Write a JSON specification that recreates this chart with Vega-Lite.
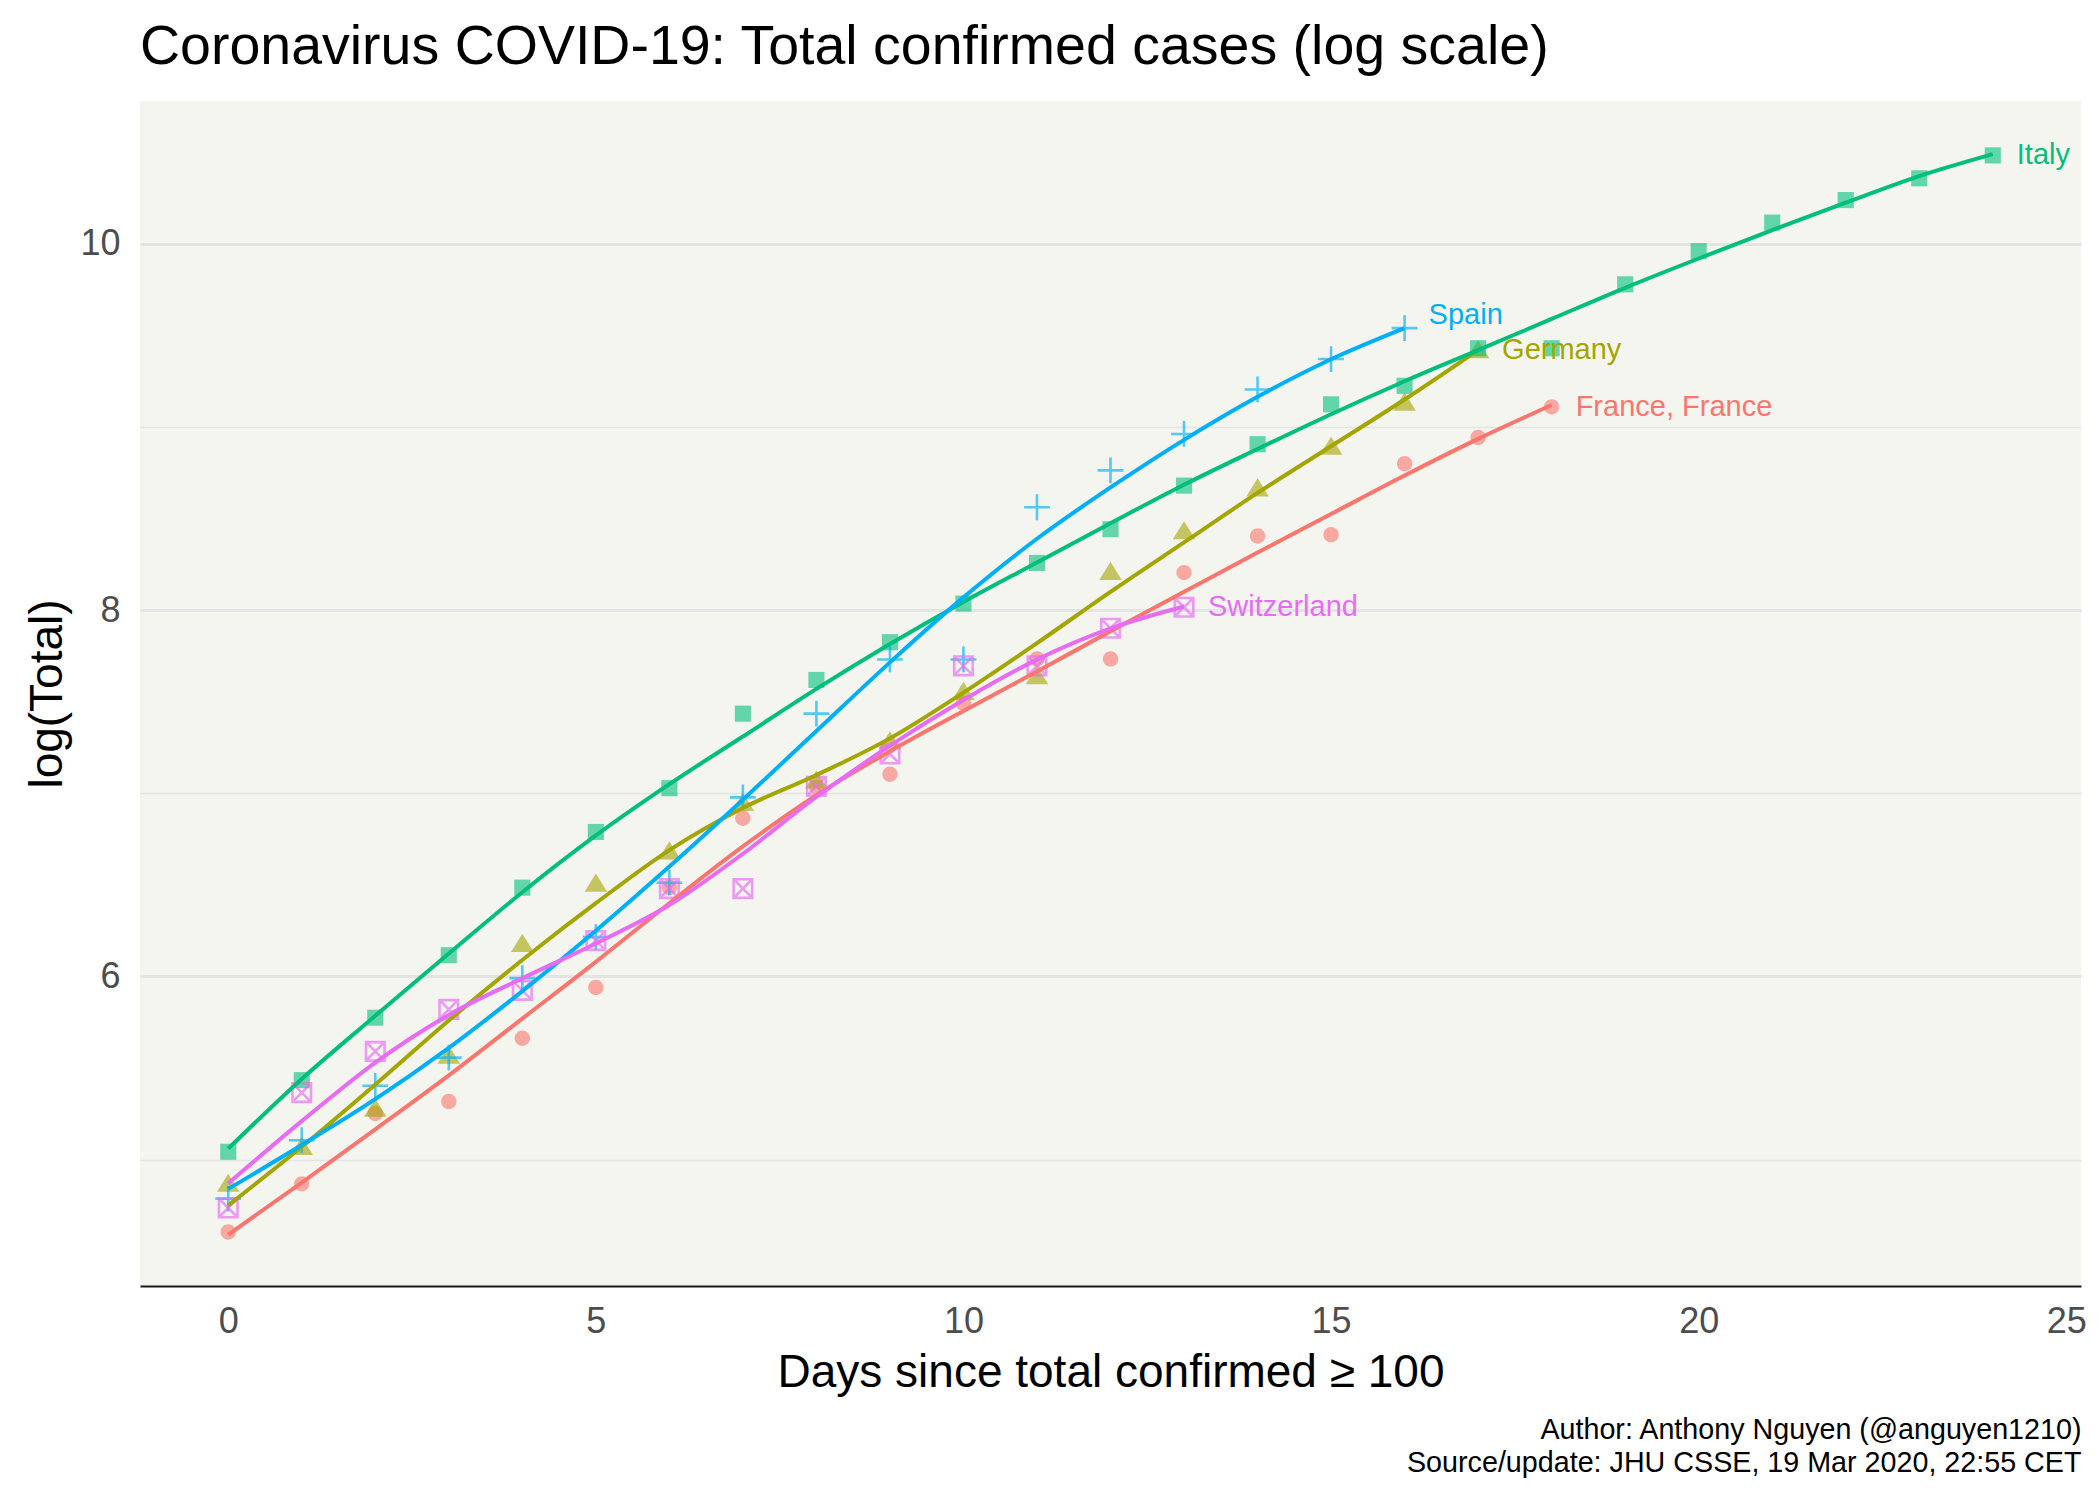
{
  "$schema": "https://vega.github.io/schema/vega-lite/v6.json",
  "width": 1941,
  "height": 1185,
  "autosize": {"type": "none"},
  "padding": {"left": 140, "top": 101, "right": 19, "bottom": 214},
  "background": "white",
  "title": {
    "text": "Coronavirus COVID-19: Total confirmed cases (log scale)",
    "anchor": "start",
    "frame": "group",
    "fontSize": 55.5,
    "fontWeight": "normal",
    "color": "#000000",
    "offset": 26
  },
  "data": {
    "values": [
      {"country": "France, France", "day": 0, "log_total": 4.605, "fit": 4.59},
      {"country": "France, France", "day": 1, "log_total": 4.868, "fit": 4.875},
      {"country": "France, France", "day": 2, "log_total": 5.252, "fit": 5.165},
      {"country": "France, France", "day": 3, "log_total": 5.318, "fit": 5.46},
      {"country": "France, France", "day": 4, "log_total": 5.663, "fit": 5.77},
      {"country": "France, France", "day": 5, "log_total": 5.94, "fit": 6.08},
      {"country": "France, France", "day": 6, "log_total": 6.486, "fit": 6.4},
      {"country": "France, France", "day": 7, "log_total": 6.864, "fit": 6.71},
      {"country": "France, France", "day": 8, "log_total": 7.034, "fit": 6.99},
      {"country": "France, France", "day": 9, "log_total": 7.104, "fit": 7.23},
      {"country": "France, France", "day": 10, "log_total": 7.492, "fit": 7.45},
      {"country": "France, France", "day": 11, "log_total": 7.734, "fit": 7.665},
      {"country": "France, France", "day": 12, "log_total": 7.734, "fit": 7.885},
      {"country": "France, France", "day": 13, "log_total": 8.205, "fit": 8.1},
      {"country": "France, France", "day": 14, "log_total": 8.405, "fit": 8.315},
      {"country": "France, France", "day": 15, "log_total": 8.412, "fit": 8.525},
      {"country": "France, France", "day": 16, "log_total": 8.8, "fit": 8.735},
      {"country": "France, France", "day": 17, "log_total": 8.943, "fit": 8.935},
      {"country": "France, France", "day": 18, "log_total": 9.11, "fit": 9.12},
      {"country": "Germany", "day": 0, "log_total": 4.868, "fit": 4.75},
      {"country": "Germany", "day": 1, "log_total": 5.069, "fit": 5.07},
      {"country": "Germany", "day": 2, "log_total": 5.278, "fit": 5.41},
      {"country": "Germany", "day": 3, "log_total": 5.568, "fit": 5.76},
      {"country": "Germany", "day": 4, "log_total": 6.178, "fit": 6.09},
      {"country": "Germany", "day": 5, "log_total": 6.507, "fit": 6.4},
      {"country": "Germany", "day": 6, "log_total": 6.683, "fit": 6.69},
      {"country": "Germany", "day": 7, "log_total": 6.947, "fit": 6.92},
      {"country": "Germany", "day": 8, "log_total": 7.07, "fit": 7.1},
      {"country": "Germany", "day": 9, "log_total": 7.284, "fit": 7.3},
      {"country": "Germany", "day": 10, "log_total": 7.554, "fit": 7.55},
      {"country": "Germany", "day": 11, "log_total": 7.639, "fit": 7.82},
      {"country": "Germany", "day": 12, "log_total": 8.209, "fit": 8.1},
      {"country": "Germany", "day": 13, "log_total": 8.431, "fit": 8.37},
      {"country": "Germany", "day": 14, "log_total": 8.665, "fit": 8.64},
      {"country": "Germany", "day": 15, "log_total": 8.892, "fit": 8.895},
      {"country": "Germany", "day": 16, "log_total": 9.133, "fit": 9.15},
      {"country": "Germany", "day": 17, "log_total": 9.419, "fit": 9.42},
      {"country": "Italy", "day": 0, "log_total": 5.043, "fit": 5.06},
      {"country": "Italy", "day": 1, "log_total": 5.434, "fit": 5.44},
      {"country": "Italy", "day": 2, "log_total": 5.775, "fit": 5.785},
      {"country": "Italy", "day": 3, "log_total": 6.116, "fit": 6.125},
      {"country": "Italy", "day": 4, "log_total": 6.485, "fit": 6.46},
      {"country": "Italy", "day": 5, "log_total": 6.789, "fit": 6.77},
      {"country": "Italy", "day": 6, "log_total": 7.028, "fit": 7.05},
      {"country": "Italy", "day": 7, "log_total": 7.435, "fit": 7.31},
      {"country": "Italy", "day": 8, "log_total": 7.619, "fit": 7.57},
      {"country": "Italy", "day": 9, "log_total": 7.825, "fit": 7.815},
      {"country": "Italy", "day": 10, "log_total": 8.036, "fit": 8.045},
      {"country": "Italy", "day": 11, "log_total": 8.258, "fit": 8.26},
      {"country": "Italy", "day": 12, "log_total": 8.442, "fit": 8.475},
      {"country": "Italy", "day": 13, "log_total": 8.68, "fit": 8.685},
      {"country": "Italy", "day": 14, "log_total": 8.906, "fit": 8.88},
      {"country": "Italy", "day": 15, "log_total": 9.124, "fit": 9.07},
      {"country": "Italy", "day": 16, "log_total": 9.225, "fit": 9.25},
      {"country": "Italy", "day": 17, "log_total": 9.43, "fit": 9.42},
      {"country": "Italy", "day": 18, "log_total": 9.43, "fit": 9.59},
      {"country": "Italy", "day": 19, "log_total": 9.779, "fit": 9.76},
      {"country": "Italy", "day": 20, "log_total": 9.96, "fit": 9.92},
      {"country": "Italy", "day": 21, "log_total": 10.116, "fit": 10.075},
      {"country": "Italy", "day": 22, "log_total": 10.239, "fit": 10.225},
      {"country": "Italy", "day": 23, "log_total": 10.358, "fit": 10.37},
      {"country": "Italy", "day": 24, "log_total": 10.483, "fit": 10.49},
      {"country": "Spain", "day": 0, "log_total": 4.787, "fit": 4.84},
      {"country": "Spain", "day": 1, "log_total": 5.106, "fit": 5.08},
      {"country": "Spain", "day": 2, "log_total": 5.403, "fit": 5.33},
      {"country": "Spain", "day": 3, "log_total": 5.557, "fit": 5.61},
      {"country": "Spain", "day": 4, "log_total": 5.991, "fit": 5.92},
      {"country": "Spain", "day": 5, "log_total": 6.215, "fit": 6.25},
      {"country": "Spain", "day": 6, "log_total": 6.512, "fit": 6.6},
      {"country": "Spain", "day": 7, "log_total": 6.978, "fit": 6.965},
      {"country": "Spain", "day": 8, "log_total": 7.435, "fit": 7.34},
      {"country": "Spain", "day": 9, "log_total": 7.731, "fit": 7.715},
      {"country": "Spain", "day": 10, "log_total": 7.731, "fit": 8.07},
      {"country": "Spain", "day": 11, "log_total": 8.562, "fit": 8.39},
      {"country": "Spain", "day": 12, "log_total": 8.763, "fit": 8.67},
      {"country": "Spain", "day": 13, "log_total": 8.962, "fit": 8.93},
      {"country": "Spain", "day": 14, "log_total": 9.205, "fit": 9.165},
      {"country": "Spain", "day": 15, "log_total": 9.371, "fit": 9.37},
      {"country": "Spain", "day": 16, "log_total": 9.54, "fit": 9.54},
      {"country": "Switzerland", "day": 0, "log_total": 4.736, "fit": 4.87},
      {"country": "Switzerland", "day": 1, "log_total": 5.366, "fit": 5.21},
      {"country": "Switzerland", "day": 2, "log_total": 5.591, "fit": 5.53},
      {"country": "Switzerland", "day": 3, "log_total": 5.82, "fit": 5.79},
      {"country": "Switzerland", "day": 4, "log_total": 5.924, "fit": 5.99},
      {"country": "Switzerland", "day": 5, "log_total": 6.196, "fit": 6.18},
      {"country": "Switzerland", "day": 6, "log_total": 6.48, "fit": 6.39},
      {"country": "Switzerland", "day": 7, "log_total": 6.48, "fit": 6.67},
      {"country": "Switzerland", "day": 8, "log_total": 7.038, "fit": 6.98},
      {"country": "Switzerland", "day": 9, "log_total": 7.215, "fit": 7.26},
      {"country": "Switzerland", "day": 10, "log_total": 7.696, "fit": 7.51},
      {"country": "Switzerland", "day": 11, "log_total": 7.696, "fit": 7.73},
      {"country": "Switzerland", "day": 12, "log_total": 7.901, "fit": 7.9},
      {"country": "Switzerland", "day": 13, "log_total": 8.016, "fit": 8.02}
    ]
  },
  "layer": [
    {
      "transform": [{"filter": "datum.country != 'Spain' && datum.country != 'Switzerland'"}],
      "mark": {"type": "point", "filled": true, "opacity": 0.6, "size": 260, "strokeWidth": 0},
      "encoding": {
        "x": {
          "field": "day",
          "type": "quantitative",
          "scale": {"domain": [-1.2, 25.2], "nice": false, "zero": false},
          "axis": {
            "values": [0, 5, 10, 15, 20, 25],
            "format": "d",
            "title": "Days since total confirmed ≥ 100",
            "grid": false,
            "ticks": false,
            "domain": true,
            "domainColor": "#1a1a1a",
            "domainWidth": 2.2,
            "labelFlush": false,
            "labelFontSize": 36,
            "labelColor": "#4D4D4D",
            "labelPadding": 18,
            "titleFontSize": 46,
            "titleFontWeight": "normal",
            "titleColor": "#000000",
            "titlePadding": 11
          }
        },
        "y": {
          "field": "log_total",
          "type": "quantitative",
          "title": "log(Total)",
          "scale": {"domain": [4.31, 10.78], "nice": false, "zero": false},
          "axis": {
            "values": [5, 6, 7, 8, 9, 10],
            "format": "d",
            "labelExpr": "datum.value % 2 == 0 ? datum.label : ''",
            "grid": true,
            "gridColor": "#E4E4E4",
            "gridWidth": {"condition": {"test": "datum.value % 2 == 1", "value": 1.5}, "value": 3},
            "ticks": false,
            "domain": false,
            "labelFontSize": 36,
            "labelColor": "#4D4D4D",
            "labelPadding": 20,
            "titleFontSize": 46,
            "titleFontWeight": "normal",
            "titleColor": "#000000",
            "titlePadding": 8
          }
        },
        "color": {"field": "country", "type": "nominal"},
        "shape": {"field": "country", "type": "nominal"}
      }
    },
    {
      "transform": [{"filter": "datum.country == 'Spain' || datum.country == 'Switzerland'"}],
      "mark": {"type": "point", "filled": false, "opacity": 0.65, "size": 260, "strokeWidth": 2.6},
      "encoding": {
        "x": {"field": "day", "type": "quantitative", "scale": {"domain": [-1.2, 25.2], "nice": false, "zero": false}, "axis": null},
        "y": {"field": "log_total", "type": "quantitative", "title": "log(Total)", "scale": {"domain": [4.31, 10.78], "nice": false, "zero": false}},
        "color": {"field": "country", "type": "nominal"},
        "shape": {"field": "country", "type": "nominal"}
      }
    },
    {
      "mark": {"type": "line", "strokeWidth": 4, "interpolate": "monotone"},
      "encoding": {
        "x": {"field": "day", "type": "quantitative", "scale": {"domain": [-1.2, 25.2], "nice": false, "zero": false}, "axis": null},
        "y": {"field": "fit", "type": "quantitative", "title": "log(Total)", "scale": {"domain": [4.31, 10.78], "nice": false, "zero": false}},
        "color": {"field": "country", "type": "nominal"},
        "detail": {"field": "country"}
      }
    },
    {
      "transform": [
        {"joinaggregate": [{"op": "max", "field": "day", "as": "last_day"}], "groupby": ["country"]},
        {"filter": "datum.day == datum.last_day && datum.country != 'Spain'"}
      ],
      "mark": {"type": "text", "align": "left", "baseline": "middle", "dx": 24, "fontSize": 29},
      "encoding": {
        "x": {
          "field": "day",
          "type": "quantitative",
          "scale": {"domain": [-1.2, 25.2], "nice": false, "zero": false},
          "axis": {
            "orient": "bottom",
            "labels": false,
            "ticks": false,
            "domain": false,
            "grid": false,
            "title": ["Author: Anthony Nguyen (@anguyen1210)", "Source/update: JHU CSSE, 19 Mar 2020, 22:55 CET"],
            "titleAnchor": "end",
            "titleAlign": "right",
            "titleFontSize": 28.7,
            "titleFontWeight": "normal",
            "titleColor": "#000000",
            "titleLineHeight": 33,
            "titlePadding": 129
          }
        },
        "y": {"field": "log_total", "type": "quantitative", "title": "log(Total)", "scale": {"domain": [4.31, 10.78], "nice": false, "zero": false}},
        "text": {"field": "country"},
        "color": {"field": "country", "type": "nominal"}
      }
    },
    {
      "transform": [{"filter": "datum.country == 'Spain' && datum.day == 16"}],
      "mark": {"type": "text", "align": "left", "baseline": "middle", "dx": 24, "dy": -13, "fontSize": 29},
      "encoding": {
        "x": {"field": "day", "type": "quantitative", "scale": {"domain": [-1.2, 25.2], "nice": false, "zero": false}, "axis": null},
        "y": {"field": "log_total", "type": "quantitative", "title": "log(Total)", "scale": {"domain": [4.31, 10.78], "nice": false, "zero": false}},
        "text": {"field": "country"},
        "color": {"field": "country", "type": "nominal"}
      }
    }
  ],
  "resolve": {"axis": {"x": "independent"}},
  "config": {
    "font": "Liberation Sans",
    "view": {"fill": "#F5F5F0", "stroke": null},
    "legend": {"disable": true},
    "range": {
      "category": ["#F8766D", "#A3A500", "#00BF7D", "#00B0F6", "#E76BF3"],
      "symbol": [
        "M-0.95,0A0.95,0.95,0,1,1,0.95,0A0.95,0.95,0,1,1,-0.95,0Z",
        "M0,-1.25L1.4,1L-1.4,1Z",
        "M-1,-1L1,-1L1,1L-1,1Z",
        "M-1.6,0L1.6,0M0,-1.6L0,1.6",
        "M-1.15,-1.15L1.15,-1.15L1.15,1.15L-1.15,1.15ZM-1.15,-1.15L1.15,1.15M-1.15,1.15L1.15,-1.15"
      ]
    }
  }
}
